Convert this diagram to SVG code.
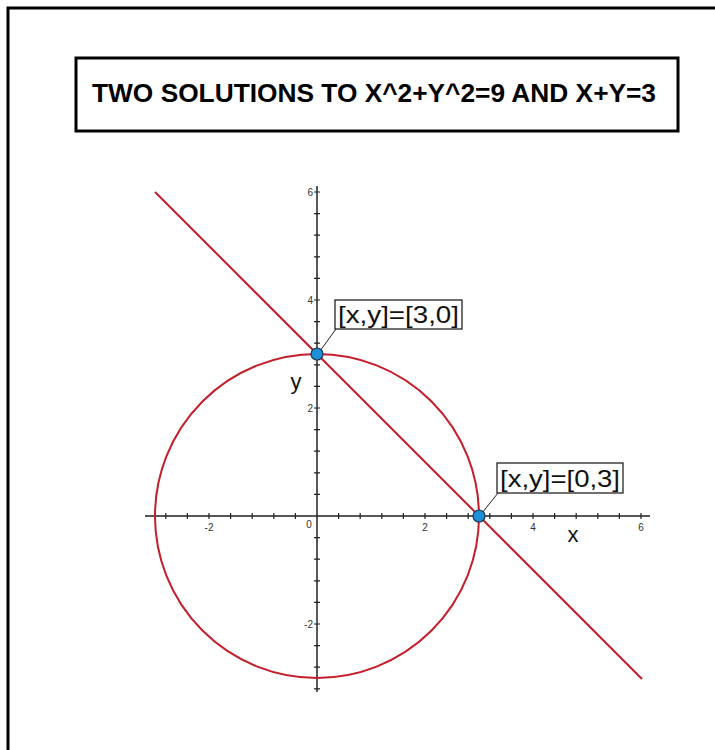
<svg xmlns="http://www.w3.org/2000/svg" width="715" height="750" viewBox="0 0 715 750">
<style>
.frame{fill:none;stroke:#000;stroke-width:3}
.axis{fill:none;stroke:#222;stroke-width:1.5}
.tick{fill:none;stroke:#222;stroke-width:1.2}
.curve{fill:none;stroke:#c41e2a;stroke-width:2}
.tl{font-family:"Liberation Sans",Arial,sans-serif;font-size:10px;fill:#333}
.al{font-family:"Liberation Sans",Arial,sans-serif;font-size:22px;fill:#111}
.lbl{font-family:"Liberation Sans",Arial,sans-serif;font-size:24px;fill:#111}
.box{fill:#fff;stroke:#111;stroke-width:1.2}
.lead{fill:none;stroke:#222;stroke-width:1}
.pt{fill:#1e90d8;stroke:#1a3550;stroke-width:1.2}
.title{font-family:"Liberation Sans",Arial,sans-serif;font-size:25px;font-weight:bold;fill:#000}
</style>
<rect width="715" height="750" fill="#fff"/>
<path class="frame" d="M8,752 V8 H717"/>
<g id="title">
<rect class="frame" x="76" y="58" width="602" height="73"/>
<text class="title" x="92" y="102" textLength="564" lengthAdjust="spacingAndGlyphs">TWO SOLUTIONS TO X^2+Y^2=9 AND X+Y=3</text>
</g>
<g id="axes">
<path class="axis" d="M145,516 H650 M317,186 V692"/>
<path class="tick" d="M165.8,513v6M187.4,513v6M209,513v6M230.6,513v6M252.2,513v6M273.8,513v6M295.4,513v6M338.6,513v6M360.2,513v6M381.8,513v6M403.4,513v6M425,513v6M446.6,513v6M468.2,513v6M489.8,513v6M511.4,513v6M533,513v6M554.6,513v6M576.2,513v6M597.8,513v6M619.4,513v6M641,513v6
M314,688.8h6M314,667.2h6M314,645.6h6M314,624h6M314,602.4h6M314,580.8h6M314,559.2h6M314,537.6h6M314,494.4h6M314,472.8h6M314,451.2h6M314,429.6h6M314,408h6M314,386.4h6M314,364.8h6M314,343.2h6M314,321.6h6M314,300h6M314,278.4h6M314,256.8h6M314,235.2h6M314,213.6h6M314,192h6"/>
<text class="tl" x="209" y="531" text-anchor="middle">-2</text>
<text class="tl" x="309" y="528" text-anchor="middle">0</text>
<text class="tl" x="425" y="531" text-anchor="middle">2</text>
<text class="tl" x="533" y="531" text-anchor="middle">4</text>
<text class="tl" x="641" y="531" text-anchor="middle">6</text>
<text class="tl" x="313" y="196" text-anchor="end">6</text>
<text class="tl" x="313" y="304" text-anchor="end">4</text>
<text class="tl" x="313" y="412" text-anchor="end">2</text>
<text class="tl" x="313" y="628" text-anchor="end">-2</text>
<text class="al" x="296" y="389" text-anchor="middle">y</text>
<text class="al" x="573" y="542" text-anchor="middle">x</text>
</g>
<g id="curves">
<circle class="curve" cx="317" cy="516" r="162"/>
<path class="curve" d="M155,192 L642,679"/>
</g>
<g id="connectors">
<path class="lead" d="M336,329 L320,351"/>
<path class="lead" d="M498,493 L482,513"/>
</g>
<g id="p1">
<rect class="box" x="335" y="300" width="127" height="29"/>
<text class="lbl" x="338" y="323" textLength="121" lengthAdjust="spacingAndGlyphs">[x,y]=[3,0]</text>
<circle class="pt" cx="317" cy="354" r="6"/>
</g>
<g id="p2">
<rect class="box" x="497" y="463" width="126" height="30"/>
<text class="lbl" x="500" y="487" textLength="120" lengthAdjust="spacingAndGlyphs">[x,y]=[0,3]</text>
<circle class="pt" cx="479" cy="516" r="6"/>
</g>
</svg>
